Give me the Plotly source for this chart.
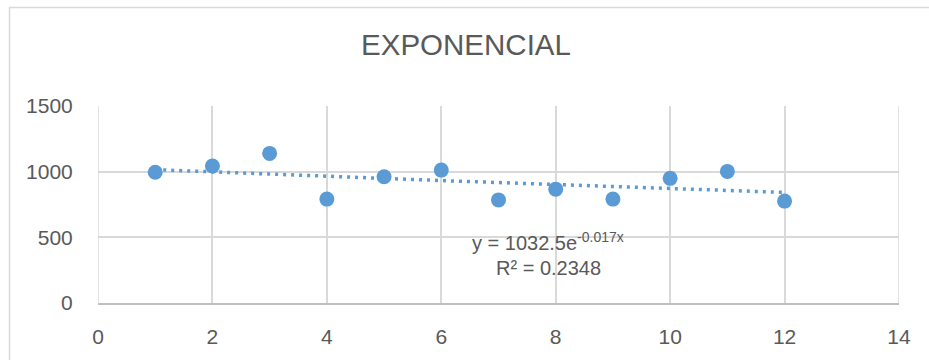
import numpy as np
import plotly.graph_objects as go

# Data
x_vals = [1, 2, 3, 4, 5, 6, 7, 8, 9, 10, 11, 12]
y_vals = [995, 1043, 1139, 791, 961, 1012, 785, 867, 791, 949, 1002, 776]

# Exponential trendline coefficients (as shown in the chart)
trend_a = 1032.5
trend_b = -0.017
title_text = "EXPONENCIAL"
eq_text = "y = 1032.5e<sup>-0.017x</sup>"
r2_text = "R² = 0.2348"

x_tick_vals = [0, 2, 4, 6, 8, 10, 12, 14]
y_tick_vals = [0, 500, 1000, 1500]

blue = "#5b9bd5"
grid = "#d9d9d9"
txt = "#595959"
font_family = "Liberation Sans, Arial, sans-serif"

tx = np.linspace(min(x_vals), max(x_vals), 200)
ty = trend_a * np.exp(trend_b * tx)

fig = go.Figure()
fig.add_trace(go.Scatter(
    x=tx, y=ty, mode="lines",
    line=dict(color=blue, width=3.5, dash="3px,5px"),
    hoverinfo="skip", showlegend=False,
))
fig.add_trace(go.Scatter(
    x=x_vals, y=y_vals, mode="markers",
    marker=dict(color=blue, size=15, line=dict(width=0)),
    showlegend=False,
))

W, H = 929, 360
ml, mr, mt, mb = 98, 30, 106, 57
pw = W - ml - mr
ph = H - mt - mb

fig.update_layout(
    width=W, height=H,
    margin=dict(l=ml, r=mr, t=mt, b=mb),
    paper_bgcolor="white", plot_bgcolor="white",
    font=dict(family=font_family, color=txt, size=21),
    title=dict(text=title_text, x=466 / W, xanchor="center",
               y=1 - 45 / H, yanchor="middle",
               font=dict(family=font_family, size=29.5, color=txt)),
    xaxis=dict(range=[0, 14], tickvals=x_tick_vals, showgrid=True, gridcolor=grid, gridwidth=1.5,
               zeroline=False, showline=True, linecolor="#bfbfbf", linewidth=1.5, mirror=False,
               ticks="outside", ticklen=14, tickcolor="rgba(0,0,0,0)",
               tickfont=dict(size=21, color=txt), fixedrange=True),
    yaxis=dict(range=[0, 1500], tickvals=y_tick_vals, showgrid=True, gridcolor=grid, gridwidth=1.5,
               zeroline=False, showline=False,
               ticks="outside", ticklen=20, tickcolor="rgba(0,0,0,0)",
               tickfont=dict(size=21, color=txt), fixedrange=True),
    shapes=[
        # left/right plot edges (vertical grid at 0 and 14)
        dict(type="line", xref="x", yref="paper", x0=0, x1=0, y0=0, y1=1,
             line=dict(color=grid, width=1.5), layer="below"),
        dict(type="line", xref="x", yref="paper", x0=14, x1=14, y0=0, y1=1,
             line=dict(color=grid, width=1.5), layer="below"),
        # outer chart border
        dict(type="rect", xref="paper", yref="paper",
             x0=(9.5 - ml) / pw, x1=(W + 5 - ml) / pw,
             y0=-(H + 5 - mt - ph) / ph, y1=(H - mb - 7.5) / ph,
             line=dict(color=grid, width=1.5), fillcolor="rgba(0,0,0,0)", layer="below"),
    ],
    annotations=[
        dict(text=eq_text, x=7.87, y=470, xref="x", yref="y", showarrow=False,
             xanchor="center", yanchor="middle", font=dict(size=20, color=txt)),
        dict(text=r2_text, x=7.87, y=265, xref="x", yref="y", showarrow=False,
             xanchor="center", yanchor="middle", font=dict(size=20, color=txt)),
    ],
)

fig.write_html("out.html")
